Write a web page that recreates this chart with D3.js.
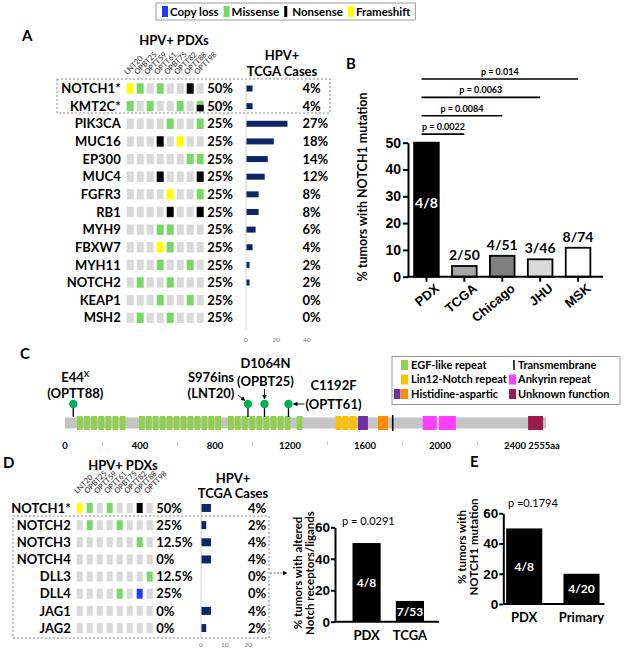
<!DOCTYPE html>
<html lang="en">
<head>
<meta charset="utf-8">
<script src="https://cdn.jsdelivr.net/npm/d3@7"></script>
<style>
	body { margin: 0; background: #fff; }
	svg { font-family: Lato, "Open Sans", sans-serif; font-weight: bold; }
</style>
</head>
<body>
<svg id="fig" width="625" height="651"></svg>
<script>

// ---- data ----
var legendKeys = ["Copy loss", "Missense", "Nonsense", "Frameshift"];

var pdxIds = ["LNT20", "OPBT25", "OPTT59", "OPTT61", "OPBT75", "OPTT82", "OPTT88", "OPTT98"];

// one char per PDX: . none, M missense, N nonsense, F frameshift, C copy loss, X missense+nonsense
var genesA = ["NOTCH1*", "KMT2C*", "PIK3CA", "MUC16", "EP300", "MUC4", "FGFR3", "RB1", "MYH9", "FBXW7", "MYH11", "NOTCH2", "KEAP1", "MSH2"];
var callsA = ["FM.M..N.", "M.M..M.X", "....M..M", "...N.F..", "......MM", "...N...N", "....F..M", "....N..N", "...MM...", "...FM...", "...M..M.", ".M..M...", "...M..M.", ".M..M..."];
var pdxPctA = ["50%", "50%", "25%", "25%", "25%", "25%", "25%", "25%", "25%", "25%", "25%", "25%", "25%", "25%"];
var tcgaA = [4, 4, 27, 18, 14, 12, 8, 8, 6, 4, 2, 2, 0, 0];
var tcgaTicksA = [0, 20, 40];

var genesD = ["NOTCH1*", "NOTCH2", "NOTCH3", "NOTCH4", "DLL3", "DLL4", "JAG1", "JAG2"];
var callsD = ["FM.M..N.", ".M..M...", "......M.", "........", ".......M", "....M.C.", "........", "........"];
var pdxPctD = ["50%", "25%", "12.5%", "0%", "12.5%", "25%", "0%", "0%"];
var tcgaD = [4, 2, 4, 4, 0, 0, 4, 2];
var tcgaTicksD = [0, 10, 20];

var cohortsB = ["PDX", "TCGA", "Chicago", "JHU", "MSK"];
var fracB = ["4/8", "2/50", "4/51", "3/46", "8/74"];
var pctB = [50, 4, 7.8, 6.5, 10.8];
var pTextB = ["p = 0.0022", "p = 0.0084", "p = 0.0063", "p = 0.014"];
var pVsB = ["TCGA", "Chicago", "JHU", "MSK"];

var cohortsD = ["PDX", "TCGA"];
var fracD = ["4/8", "7/53"];
var pctD = [50, 13.2];

var cohortsE = ["PDX", "Primary"];
var fracE = ["4/8", "4/20"];
var pctE = [50, 20];

// NOTCH1 protein (aa)
var proteinLen = 2555;
var egfStart = [64, 102, 140, 178, 216, 254, 292,
	395, 432, 469, 506, 543, 580, 617, 654, 691, 728, 765, 802,
	869, 907, 945, 983, 1021, 1059, 1097, 1135, 1173, 1236];
var egfLen = 30;
var domType = ["LNR", "LNR", "LNR", "HD1", "HD2", "ANK", "ANK", "UNK"];
var domStart = [1444, 1480, 1517, 1563, 1669, 1908, 1995, 2470];
var domEnd = [1475, 1512, 1555, 1616, 1723, 1983, 2085, 2550];
var tmPos = 1748;
var mutName = ["E44", "S976ins", "D1064N", "C1192F"];
var mutSample = ["(OPTT88)", "(LNT20)", "(OPBT25)", "(OPTT61)"];
var mutPos = [44, 976, 1064, 1192];
var axisTicksC = [0, 400, 800, 1200, 1600, 2000, 2400];

// ---- drawing ----
var svg = d3.select("#fig");

var callColor = {".": "#d9d9d9", "M": "#77d867", "N": "#000", "F": "#ffff00", "C": "#1a3cff"};
var legendColor = {"Copy loss": "#1a3cff", "Missense": "#77d867", "Nonsense": "#000", "Frameshift": "#ffff00"};

// top legend
var lg = svg.append("g");
var cur = 162;
legendKeys.forEach(function(k) {
	lg.append("rect").attr("x", cur).attr("y", 6).attr("width", k == "Nonsense" ? 3 : 6).attr("height", 11)
		.attr("fill", legendColor[k]);
	var t = lg.append("text").attr("x", cur + 8).attr("y", 15.5).attr("font-size", 11.5).text(k);
	cur += 8 + t.node().getComputedTextLength() + 5;
});
lg.append("rect").attr("x", 156).attr("y", 3).attr("width", cur - 156).attr("height", 17)
	.attr("fill", "none").attr("stroke", "#9a9a9a");

function letter(s, x, y) {
	svg.append("text").attr("x", x).attr("y", y).attr("font-size", 15).text(s);
}

function oncoprint(c) {
	var g = svg.append("g");
	var x = d3.scaleBand().domain(pdxIds).range(c.cols).paddingInner(c.colPad);
	var y = d3.scaleBand().domain(c.genes).range(c.rows).paddingInner(c.rowPad);
	var xt = d3.scaleLinear().domain([0, c.tMax]).range(c.tRange);
	var mid = function(gn) { return y(gn) + y.bandwidth() / 2; };

	var cells = [];
	c.genes.forEach(function(gn, i) {
		c.calls[i].split("").forEach(function(k, j) { cells.push({gene: gn, id: pdxIds[j], k: k}); });
	});
	g.selectAll(".cell").data(cells).enter().append("rect")
		.attr("x", function(d) { return x(d.id); })
		.attr("y", function(d) { return y(d.gene); })
		.attr("width", x.bandwidth()).attr("height", y.bandwidth())
		.attr("fill", function(d) { return d.k == "X" ? callColor.M : callColor[d.k]; });
	g.selectAll(".split").data(cells.filter(function(d) { return d.k == "X"; })).enter().append("rect")
		.attr("x", function(d) { return x(d.id); })
		.attr("y", function(d) { return y(d.gene) + y.bandwidth() * 0.38; })
		.attr("width", x.bandwidth()).attr("height", y.bandwidth() * 0.62)
		.attr("fill", callColor.N);

	// gene names
	g.selectAll(".gene").data(c.genes).enter().append("text")
		.attr("x", c.cols[0] - 6).attr("y", mid).attr("dy", "0.36em")
		.attr("text-anchor", "end").attr("font-size", 13).text(function(d) { return d; });
	// PDX %
	g.selectAll(".pp").data(c.pdxPct).enter().append("text")
		.attr("x", c.cols[1] + 3.5).attr("y", function(d, i) { return mid(c.genes[i]); }).attr("dy", "0.36em")
		.attr("font-size", 13).text(function(d) { return d; });
	// column names
	g.selectAll(".col").data(pdxIds).enter().append("text")
		.attr("transform", function(d) { return "translate(" + (x(d) + 0.5) + "," + c.colY + ") rotate(-45)"; })
		.attr("font-size", 7.5).attr("font-weight", "normal").attr("fill", "#222").text(function(d) { return d; });
	g.append("text").attr("x", c.pdxHead[0]).attr("y", c.pdxHead[1]).attr("text-anchor", "middle")
		.attr("font-size", 13).text("HPV+ PDXs");

	// TCGA bars
	g.append("line").attr("x1", xt(0)).attr("x2", xt(0))
		.attr("y1", c.rows[0] - 2).attr("y2", c.rows[1] + 6)
		.attr("stroke", "#d4d4d4").attr("stroke-width", 1);
	g.selectAll(".tb").data(c.tcga).enter().append("rect")
		.attr("x", xt(0) + 0.5)
		.attr("y", function(d, i) { return mid(c.genes[i]) - c.barH / 2; })
		.attr("width", function(d) { return Math.max(0, xt(d) - xt(0)); })
		.attr("height", function(d) { return d > 0 ? c.barH : 0; })
		.attr("fill", "#0d2766");
	g.selectAll(".tp").data(c.tcga).enter().append("text")
		.attr("x", c.tPctX).attr("y", function(d, i) { return mid(c.genes[i]); }).attr("dy", "0.36em")
		.attr("font-size", 13).text(function(d) { return d + "%"; });
	g.selectAll(".tk").data(c.tTicks).enter().append("text")
		.attr("x", xt).attr("y", c.tickY).attr("text-anchor", "middle")
		.attr("font-size", 6.5).attr("font-weight", "normal").attr("fill", "#777")
		.text(function(d) { return d; });
	g.append("text").attr("x", c.tHead).attr("y", c.headY[0]).attr("text-anchor", "middle")
		.attr("font-size", 13).text("HPV+");
	g.append("text").attr("x", c.tHead).attr("y", c.headY[1]).attr("text-anchor", "middle")
		.attr("font-size", 13).text("TCGA Cases");
	return g;
}

// ---- panel A ----
letter("A", 22, 41);
oncoprint({
	genes: genesA, calls: callsA, pdxPct: pdxPctA, tcga: tcgaA, tTicks: tcgaTicksA,
	cols: [126.7, 203.7], colPad: 0.3, rows: [83.3, 323], rowPad: 0.41,
	tMax: 40, tRange: [246, 306.7], barH: 6, tPctX: 302.5, tickY: 342,
	colY: 75, pdxHead: [174, 45], tHead: 282, headY: [60, 76]
});
svg.append("rect").attr("x", 57).attr("y", 79).attr("width", 273).attr("height", 34)
	.attr("fill", "none").attr("stroke", "#8a8a8a").attr("stroke-dasharray", "2,2");

// ---- panel B ----
letter("B", 346, 69);
var gB = svg.append("g");
var xB = d3.scaleBand().domain(cohortsB).range([407.5, 597]).paddingInner(0.35).paddingOuter(0.175);
var yB = d3.scaleLinear().domain([0, 50]).range([276.7, 142.7]);
var fillB = {"PDX": "#000", "TCGA": "#a6a6a6", "Chicago": "#7f7f7f", "JHU": "#d9d9d9", "MSK": "#fff"};

gB.selectAll(".bar").data(pctB).enter().append("rect")
	.attr("x", function(d, i) { return xB(cohortsB[i]); })
	.attr("y", function(d) { return yB(d); })
	.attr("width", xB.bandwidth())
	.attr("height", function(d) { return yB(0) - yB(d); })
	.attr("fill", function(d, i) { return fillB[cohortsB[i]]; })
	.attr("stroke", "#000").attr("stroke-width", 1.8);
gB.selectAll(".fr").data(fracB).enter().append("text")
	.attr("x", function(d, i) { return xB(cohortsB[i]) + xB.bandwidth() / 2; })
	.attr("y", function(d, i) { return i == 0 ? yB(pctB[i] * 0.5) - 2 : yB(pctB[i]) - 6; })
	.attr("text-anchor", "middle").attr("font-size", 14)
	.attr("fill", function(d, i) { return i == 0 ? "#fff" : "#000"; })
	.text(function(d) { return d; });

var ayB = gB.append("g").attr("transform", "translate(408,0)")
	.call(d3.axisLeft(yB).tickValues([0, 10, 20, 30, 40, 50]).tickSize(5).tickPadding(2).tickSizeOuter(0));
ayB.selectAll("text").attr("font-size", 14).attr("font-family", null).attr("font-weight", "bold");
ayB.selectAll("path, line").attr("stroke-width", 2);

var axB = gB.append("g").attr("transform", "translate(0," + yB(0) + ")")
	.call(d3.axisBottom(xB).tickSize(5).tickSizeOuter(0));
axB.select(".domain").remove();
axB.selectAll("line").attr("stroke-width", 2);
axB.selectAll("text").attr("font-size", 13).attr("font-family", null).attr("font-weight", "bold")
	.attr("text-anchor", "end").attr("dy", "0.3em")
	.attr("transform", "translate(6,4) rotate(-40)");
gB.append("line").attr("x1", 407).attr("x2", 603).attr("y1", yB(0)).attr("y2", yB(0))
	.attr("stroke", "#000").attr("stroke-width", 2);

var cB = function(k) { return xB(k) + xB.bandwidth() / 2; };
pTextB.forEach(function(p, i) {
	var ly = yB(53.2 + 6.85 * i);
	var x1 = xB("PDX") + xB.bandwidth() * 0.3, x2 = cB(pVsB[i]);
	gB.append("line").attr("x1", x1).attr("x2", x2).attr("y1", ly).attr("y2", ly)
		.attr("stroke", "#000").attr("stroke-width", 1.6);
	gB.append("text").attr("x", Math.max((x1 + x2) / 2, x1 + 22)).attr("y", ly - 4)
		.attr("text-anchor", "middle").attr("font-size", 9).text(p);
});
gB.append("text").attr("transform", "translate(367,187) rotate(-90)")
	.attr("text-anchor", "middle").attr("font-size", 12.5).text("% tumors with NOTCH1 mutation");

// ---- panel C ----
letter("C", 20, 359);
var gC = svg.append("g");
var xC = d3.scaleLinear().domain([0, proteinLen]).range([65, 544]);
var domColor = {"LNR": "#ffc000", "HD1": "#7030a0", "HD2": "#ff8c00", "ANK": "#ff40ff", "UNK": "#9c1c4e"};

gC.append("rect").attr("x", xC(0)).attr("y", 417.5).attr("width", xC(proteinLen) - xC(0) + 2).attr("height", 11)
	.attr("fill", "#c4c4c4");
gC.selectAll(".egf").data(egfStart).enter().append("rect")
	.attr("x", function(d) { return xC(d); }).attr("y", 416)
	.attr("width", xC(egfLen) - xC(0)).attr("height", 14).attr("fill", "#8fd14f");
gC.selectAll(".dom").data(domStart).enter().append("rect")
	.attr("x", function(d) { return xC(d); }).attr("y", 416)
	.attr("width", function(d, i) { return xC(domEnd[i]) - xC(d); }).attr("height", 14)
	.attr("fill", function(d, i) { return domColor[domType[i]]; });
gC.append("line").attr("x1", xC(tmPos)).attr("x2", xC(tmPos)).attr("y1", 415).attr("y2", 431)
	.attr("stroke", "#000").attr("stroke-width", 1.6);

// lollipops
gC.selectAll(".stem").data(mutPos).enter().append("line")
	.attr("x1", function(d) { return xC(d); }).attr("x2", function(d) { return xC(d); })
	.attr("y1", 404).attr("y2", 417).attr("stroke", "#000").attr("stroke-width", 1.3);
gC.selectAll(".head").data(mutPos).enter().append("circle")
	.attr("cx", function(d) { return xC(d); }).attr("cy", 404).attr("r", 4.2).attr("fill", "#00b050");

// mutation labels (offsets relative to the lollipop)
var labDx = [2, -37, 1, 45], labY = [[381.5, 398], [381.5, 398], [368, 386], [389.5, 408.5]];
mutPos.forEach(function(p, i) {
	var t = gC.append("text").attr("x", xC(p) + labDx[i]).attr("y", labY[i][0])
		.attr("text-anchor", "middle").attr("font-size", 13).text(mutName[i]);
	if (i == 0) t.append("tspan").attr("font-size", 8).attr("dy", -5).text("X");
	gC.append("text").attr("x", xC(p) + labDx[i]).attr("y", labY[i][1])
		.attr("text-anchor", "middle").attr("font-size", 13).text(mutSample[i]);
});
svg.append("defs").append("marker").attr("id", "ah").attr("viewBox", "0 0 10 10")
	.attr("refX", 9).attr("refY", 5).attr("markerWidth", 5).attr("markerHeight", 5).attr("orient", "auto")
	.append("path").attr("d", "M0,0L10,5L0,10z").attr("fill", "#000");
function arrow(g, x1, y1, x2, y2) {
	g.append("line").attr("x1", x1).attr("y1", y1).attr("x2", x2).attr("y2", y2)
		.attr("stroke", "#000").attr("stroke-width", 0.9).attr("marker-end", "url(#ah)");
}
arrow(gC, xC(976) - 10, 395, xC(976) - 3, 400.5);
arrow(gC, xC(1064), 389, xC(1064), 399);
arrow(gC, xC(1192) + 16, 404, xC(1192) + 5, 404);

// axis labels
gC.selectAll(".ax").data(axisTicksC).enter().append("text")
	.attr("x", function(d) { return xC(d); }).attr("y", 449).attr("text-anchor", "middle")
	.attr("font-size", 9.5).text(function(d) { return d; });
gC.append("text").attr("x", xC(proteinLen)).attr("y", 449).attr("text-anchor", "middle")
	.attr("font-size", 9.5).text(proteinLen + "aa");
gC.selectAll(".mt").data(axisTicksC.slice(0, 6)).enter().append("line")
	.attr("x1", function(d) { return xC(d + 200); }).attr("x2", function(d) { return xC(d + 200); })
	.attr("y1", 441).attr("y2", 445).attr("stroke", "#ccc");

// domain legend
var lC = svg.append("g");
lC.append("rect").attr("x", 392).attr("y", 356.5).attr("width", 228).attr("height", 48)
	.attr("fill", "#fff").attr("stroke", "#9a9a9a");
var legRowY = [365, 379.5, 394];
lC.append("rect").attr("x", 401).attr("y", legRowY[0] - 5).attr("width", 7).attr("height", 10).attr("fill", "#8fd14f");
lC.append("rect").attr("x", 401).attr("y", legRowY[1] - 5).attr("width", 7).attr("height", 10).attr("fill", domColor.LNR);
lC.append("rect").attr("x", 394).attr("y", legRowY[2] - 5).attr("width", 6.5).attr("height", 10).attr("fill", domColor.HD1);
lC.append("rect").attr("x", 401).attr("y", legRowY[2] - 5).attr("width", 7).attr("height", 10).attr("fill", domColor.HD2);
lC.append("line").attr("x1", 514).attr("x2", 514).attr("y1", legRowY[0] - 5).attr("y2", legRowY[0] + 5).attr("stroke", "#000").attr("stroke-width", 1.5);
lC.append("rect").attr("x", 509).attr("y", legRowY[1] - 5).attr("width", 7).attr("height", 10).attr("fill", domColor.ANK);
lC.append("rect").attr("x", 509).attr("y", legRowY[2] - 5).attr("width", 7).attr("height", 10).attr("fill", domColor.UNK);
[["EGF-like repeat", 411, 0], ["Lin12-Notch repeat", 411, 1], ["Histidine-aspartic", 411, 2],
 ["Transmembrane", 518, 0], ["Ankyrin repeat", 518, 1], ["Unknown function", 518, 2]].forEach(function(r) {
	lC.append("text").attr("x", r[1]).attr("y", legRowY[r[2]]).attr("dy", "0.36em")
		.attr("font-size", 11).text(r[0]);
});

// ---- panel D ----
letter("D", 3, 468);
oncoprint({
	genes: genesD, calls: callsD, pdxPct: pdxPctD, tcga: tcgaD, tTicks: tcgaTicksD,
	cols: [76.7, 152.7], colPad: 0.4, rows: [503, 633], rowPad: 0.42,
	tMax: 20, tRange: [201, 248.3], barH: 8, tPctX: 248, tickY: 647,
	colY: 494, pdxHead: [123, 470], tHead: 233, headY: [483, 498]
});
svg.append("rect").attr("x", 13).attr("y", 516).attr("width", 256).attr("height", 122)
	.attr("fill", "none").attr("stroke", "#8a8a8a").attr("stroke-dasharray", "2,2");
svg.append("line").attr("x1", 270).attr("x2", 287).attr("y1", 573).attr("y2", 573)
	.attr("stroke", "#555").attr("stroke-width", 0.9).attr("stroke-dasharray", "2,1.5").attr("marker-end", "url(#ah)");

// small bar charts for D and E
function smallBars(c) {
	var g = svg.append("g");
	var x = d3.scaleBand().domain(c.cats).range(c.xr).paddingInner(c.pad).paddingOuter(c.padOut);
	var y = d3.scaleLinear().domain([0, 60]).range(c.yr);
	g.selectAll(".b").data(c.vals).enter().append("rect")
		.attr("x", function(d, i) { return x(c.cats[i]); }).attr("y", y)
		.attr("width", x.bandwidth()).attr("height", function(d) { return y(0) - y(d); })
		.attr("fill", "#000");
	g.selectAll(".l").data(c.fracs).enter().append("text")
		.attr("x", function(d, i) { return x(c.cats[i]) + x.bandwidth() / 2; })
		.attr("y", function(d, i) { return y(c.vals[i] / 2); }).attr("dy", "0.36em")
		.attr("text-anchor", "middle").attr("font-size", 12).attr("fill", "#fff")
		.text(function(d) { return d; });
	var ay = g.append("g").attr("transform", "translate(" + c.axX + ",0)")
		.call(d3.axisLeft(y).tickValues([0, 20, 40, 60]).tickSize(4).tickPadding(1).tickSizeOuter(0));
	ay.selectAll("text").attr("font-size", 13.5).attr("font-family", null).attr("font-weight", "bold");
	ay.selectAll("path, line").attr("stroke-width", 2);
	g.append("line").attr("x1", c.axX).attr("x2", c.xr[1] + 2).attr("y1", y(0)).attr("y2", y(0))
		.attr("stroke", "#000").attr("stroke-width", 2);
	g.selectAll(".xl").data(c.cats).enter().append("text")
		.attr("x", function(d) { return x(d) + x.bandwidth() / 2; }).attr("y", y(0) + 18)
		.attr("text-anchor", "middle").attr("font-size", 13).text(function(d) { return d; });
	g.append("text").attr("x", c.p[1]).attr("y", c.p[2]).attr("font-size", 11).attr("font-weight", "normal")
		.text(c.p[0]);
	c.title.forEach(function(t, i) {
		g.append("text").attr("transform", "translate(" + (c.titleX + i * 12) + "," + c.titleY + ") rotate(-90)")
			.attr("text-anchor", "middle").attr("font-size", 11.5).text(t);
	});
}
smallBars({
	cats: cohortsD, vals: pctD, fracs: fracD, xr: [339.5, 437], pad: 0.35, padOut: 0.3,
	yr: [621.7, 527.3], axX: 335, p: ["p = 0.0291", 342, 525], title: ["% tumors with altered", "Notch receptors/ligands"],
	titleX: 302, titleY: 573
});
letter("E", 470, 467);
smallBars({
	cats: cohortsE, vals: pctE, fracs: fracE, xr: [503.3, 602.4], pad: 0.37, padOut: 0.05,
	yr: [604, 513.3], axX: 503.3, p: ["p =0.1794", 508, 507], title: ["% tumors with", "NOTCH1 mutation"],
	titleX: 466, titleY: 547
});

</script>
</body>
</html>
